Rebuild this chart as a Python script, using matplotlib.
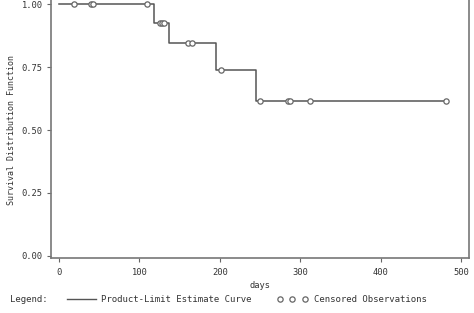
import matplotlib
matplotlib.use("Agg")
import matplotlib.pyplot as plt
from matplotlib.lines import Line2D

# Kaplan-Meier step curve (event times and survival after each step)
step_times = [0, 118, 137, 195, 245]
step_surv = [1.000, 0.923, 0.846, 0.740, 0.617]
end_time = 481

# Censored observations (time, survival level)
cens_times = [18, 40, 42, 109, 125, 128, 131, 160, 166, 202, 250, 285, 287, 312, 481]
cens_surv = [1.0, 1.0, 1.0, 1.0, 0.923, 0.923, 0.923, 0.846, 0.846, 0.740,
             0.617, 0.617, 0.617, 0.617, 0.617]

xticks = [0, 100, 200, 300, 400, 500]
yticks = [0.00, 0.25, 0.50, 0.75, 1.00]

W, H = 474, 313
fig = plt.figure(figsize=(W / 100, H / 100), dpi=100)
ax = fig.add_axes([51 / W, (H - 258) / H, (469 - 51) / W, 258 / H])

col = "#555555"
xs = step_times + [end_time]
ys = step_surv + [step_surv[-1]]
ax.step(xs, ys, where="post", color=col, lw=1.1)
ax.plot(cens_times, cens_surv, ls="none", marker="o", ms=3.8, mfc="white",
        mec="#666666", mew=0.9)

ax.set_xlim(-10, 510)
ax.set_ylim(-0.008, 1.016)
ax.set_xticks(xticks)
ax.set_yticks(yticks)
ax.set_yticklabels([f"{v:.2f}" for v in yticks])

mono = "DejaVu Sans Mono"
for lab in ax.get_xticklabels() + ax.get_yticklabels():
    lab.set_fontfamily(mono)
    lab.set_fontsize(6.3)
    lab.set_color("#333333")

ax.tick_params(direction="out", length=3, width=0.8, color="#666666")
ax.tick_params(axis="x", pad=4.5)
ax.tick_params(axis="y", pad=3)
for s in ["left", "bottom", "right"]:
    ax.spines[s].set_color("#777777")
    ax.spines[s].set_linewidth(1.2)
ax.spines["top"].set_visible(False)

fig.text(260 / W, 1 - 286 / H, "days", family=mono, fontsize=6.3,
         color="#333333", ha="center", va="center")
fig.text(12 / W, 1 - 130 / H, "Survival Distribution Function", family=mono,
         fontsize=6.0, color="#333333", rotation=90, ha="center", va="center")

# legend row
ly = 1 - 299 / H
fig.text(10 / W, ly, "Legend:", family=mono, fontsize=6.5, color="#333333",
         va="center", ha="left")
fig.add_artist(Line2D([67 / W, 96 / W], [ly, ly], color=col, lw=1.0,
                      transform=fig.transFigure))
fig.text(101 / W, ly, "Product-Limit Estimate Curve", family=mono, fontsize=6.5,
         color="#333333", va="center", ha="left")
for cx in [280, 292, 305]:
    fig.add_artist(Line2D([cx / W], [ly], ls="none", marker="o", ms=3.8,
                          mfc="white", mec="#666666", mew=0.9,
                          transform=fig.transFigure))
fig.text(314 / W, ly, "Censored Observations", family=mono, fontsize=6.5,
         color="#333333", va="center", ha="left")

fig.savefig("out.png", dpi=100)
